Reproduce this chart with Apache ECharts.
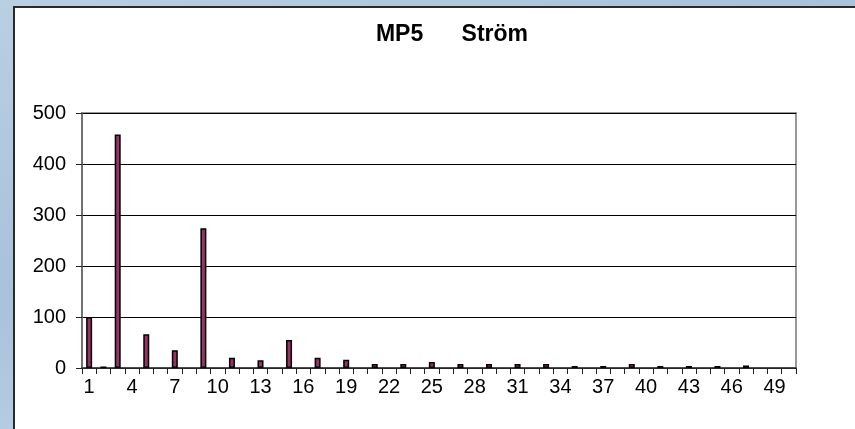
<!DOCTYPE html>
<html>
<head>
<meta charset="utf-8">
<script src="https://cdn.jsdelivr.net/npm/echarts@6/dist/echarts.min.js"></script>
<style>
  html, body {
    margin: 0;
    width: 855px;
    height: 429px;
    overflow: hidden;
    background: linear-gradient(160deg, #b9cfe2 0%, #a8c2da 40%, #bcd2e5 70%, #a9c3db 100%);
  }
  #panel {
    position: absolute;
    left: 13px;
    top: 6px;
    width: 860px;
    height: 440px;
    background: #ffffff;
    border-left: 2px solid #2a2a2a;
    border-top: 2px solid #2a2a2a;
  }
  #chart {
    position: absolute;
    left: 0;
    top: 0;
    width: 855px;
    height: 429px;
  }
</style>
</head>
<body>
<div id="panel"></div>
<div id="chart"></div>
<script>
// categories on the x axis
const categories = ['1', '2', '3', '4', '5', '6', '7', '8', '9', '10',
  '11', '12', '13', '14', '15', '16', '17', '18', '19', '20',
  '21', '22', '23', '24', '25', '26', '27', '28', '29', '30',
  '31', '32', '33', '34', '35', '36', '37', '38', '39', '40',
  '41', '42', '43', '44', '45', '46', '47', '48', '49', '50']

// Ström values
const stromValues = [100, 3, 458, 0, 66, 0, 35, 0, 274, 0,
  20, 0, 15, 0, 55, 0, 20, 0, 16, 0,
  8, 0, 8, 0, 12, 0, 8, 0, 8, 0,
  8, 0, 8, 0, 4, 0, 4, 0, 8, 0,
  4, 0, 4, 0, 4, 0, 5, 0, 0, 0]

const font = 'Liberation Sans, Arial, sans-serif'
const chart = echarts.init(document.getElementById('chart'))
const option = {
  animation: false,
  title: {
    text: 'MP5      Ström',
    left: 447,
    top: 18,
    textAlign: 'center',
    textStyle: { fontFamily: font, fontSize: 23, fontWeight: 'bold', color: '#000' }
  },
  grid: {
    left: 82,
    right: 59,
    top: 113,
    bottom: 61,
    show: true,
    borderColor: '#999',
    borderWidth: 2,
    backgroundColor: 'transparent'
  },
  xAxis: {
    type: 'category',
    data: categories,
    boundaryGap: true,
    axisLine: { lineStyle: { color: '#333', width: 1.5 } },
    axisTick: { show: true, interval: 0, length: 6, lineStyle: { color: '#222', width: 1 } },
    axisLabel: { interval: 2, margin: 9, color: '#000', fontSize: 20, fontFamily: font }
  },
  yAxis: {
    type: 'value',
    min: 0,
    max: 500,
    interval: 100,
    axisLine: { show: true, lineStyle: { color: '#666', width: 1.5 } },
    axisTick: { show: true, length: 6, lineStyle: { color: '#222' } },
    axisLabel: { margin: 16, color: '#000', fontSize: 20, fontFamily: font },
    splitLine: { lineStyle: { color: '#000', width: 1 } }
  },
  series: [
    {
      name: 'Ström',
      type: 'bar',
      // empty categories are left blank, as in the original
      data: stromValues.map(v => (v === 0 ? '-' : v)),
      barWidth: 6,
      itemStyle: { color: '#993366', borderColor: '#000', borderWidth: 1.5 }
    }
  ]
}
chart.setOption(option)
</script>
</body>
</html>
